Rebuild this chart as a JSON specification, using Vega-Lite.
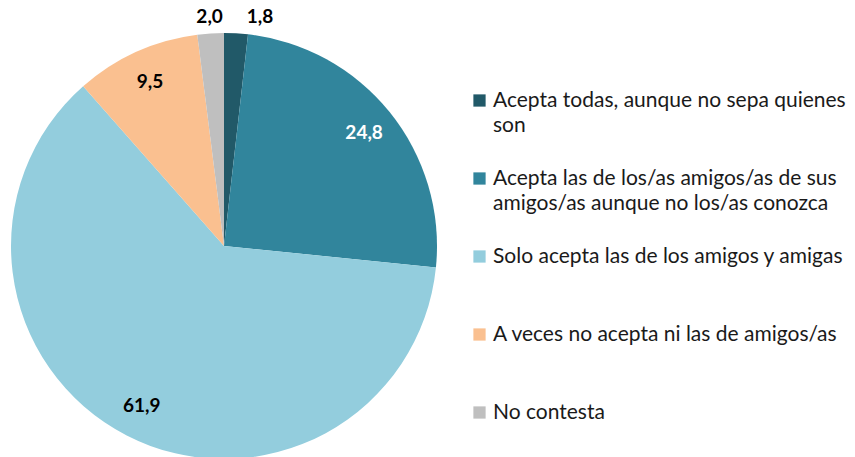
{
  "$schema": "https://vega.github.io/schema/vega-lite/v6.json",
  "width": 448,
  "height": 422,
  "autosize": "none",
  "padding": {"left": 0, "top": 35, "right": 407, "bottom": 0},
  "background": "white",
  "config": {
    "view": {"stroke": null},
    "style": {"guide-label": {"lineHeight": 25}},
    "locale": {"number": {"decimal": ",", "thousands": ".", "grouping": [3], "currency": ["", " €"]}}
  },
  "data": {
    "values": [
      {"category": "Acepta todas, aunque no sepa quienes son", "value": 1.8, "order": 1},
      {"category": "Acepta las de los/as amigos/as de sus amigos/as aunque no los/as conozca", "value": 24.8, "order": 2},
      {"category": "Solo acepta las de los amigos y amigas", "value": 61.9, "order": 3},
      {"category": "A veces no acepta ni las de amigos/as", "value": 9.5, "order": 4},
      {"category": "No contesta", "value": 2.0, "order": 5}
    ]
  },
  "encoding": {
    "theta": {"field": "value", "type": "quantitative", "stack": true},
    "order": {"field": "order", "type": "quantitative"}
  },
  "layer": [
    {
      "mark": {"type": "arc", "outerRadius": 213},
      "encoding": {
        "color": {
          "field": "category",
          "type": "nominal",
          "scale": {
            "domain": [
              "Acepta todas, aunque no sepa quienes son",
              "Acepta las de los/as amigos/as de sus amigos/as aunque no los/as conozca",
              "Solo acepta las de los amigos y amigas",
              "A veces no acepta ni las de amigos/as",
              "No contesta"
            ],
            "range": ["#215968", "#31859c", "#93cddd", "#fac090", "#bfbfbf"]
          },
          "legend": {
            "orient": "none",
            "legendX": 469,
            "legendY": 55,
            "title": null,
            "padding": 0,
            "symbolType": "square",
            "symbolSize": 150,
            "symbolStrokeWidth": 0,
            "symbolOpacity": 1,
            "labelFont": "Lato",
            "labelFontSize": 21,
            "labelColor": "#1a1a1a",
            "labelOffset": 3,
            "labelLimit": 0,
            "rowPadding": 31,
            "labelExpr": "datum.label == 'Acepta todas, aunque no sepa quienes son' ? ['Acepta todas, aunque no sepa quienes', 'son'] : datum.label == 'Acepta las de los/as amigos/as de sus amigos/as aunque no los/as conozca' ? ['Acepta las de los/as amigos/as de sus', 'amigos/as aunque no los/as conozca'] : [datum.label, '']"
          }
        }
      }
    },
    {
      "mark": {"type": "text", "radius": 180, "font": "Lato", "fontSize": 19, "fontWeight": "bold"},
      "encoding": {
        "text": {"condition": {"test": "datum.value < 5", "value": ""}, "field": "value", "type": "quantitative", "format": ".1f"},
        "color": {"condition": {"test": "datum.value > 20 && datum.value < 30", "value": "#ffffff"}, "value": "#000000"}
      }
    },
    {
      "mark": {"type": "text", "radius": 229, "font": "Lato", "fontSize": 19, "fontWeight": "bold", "color": "#000000"},
      "encoding": {
        "text": {"condition": {"test": "datum.category != 'No contesta'", "value": ""}, "field": "value", "type": "quantitative", "format": ".1f"}
      }
    },
    {
      "mark": {"type": "text", "radius": 229, "dx": 23, "font": "Lato", "fontSize": 19, "fontWeight": "bold", "color": "#000000"},
      "encoding": {
        "text": {"condition": {"test": "datum.category != 'Acepta todas, aunque no sepa quienes son'", "value": ""}, "field": "value", "type": "quantitative", "format": ".1f"}
      }
    }
  ]
}
